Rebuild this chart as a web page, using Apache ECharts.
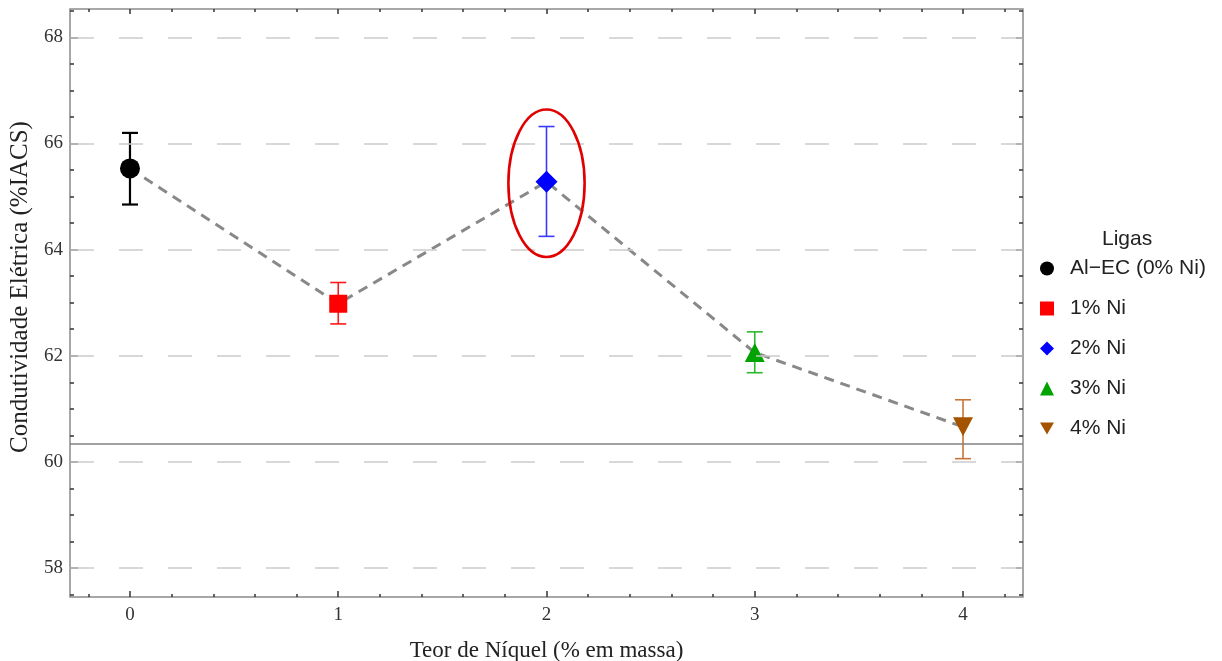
<!DOCTYPE html>
<html>
<head>
<meta charset="utf-8">
<title>Condutividade Elétrica x Teor de Níquel</title>
<script src="https://cdn.jsdelivr.net/npm/echarts@6/dist/echarts.min.js"></script>
<style>
  html, body { margin: 0; padding: 0; background: #fff; }
  #grafico { width: 1222px; height: 661px; }
</style>
</head>
<body>
<div id="grafico"></div>
<script>
// dados
var teorNi = [0, 1, 2, 3, 4];
var ligas = ['Al\u2212EC (0% Ni)', '1% Ni', '2% Ni', '3% Ni', '4% Ni'];
var condMedia = [65.53, 62.98, 65.28, 62.06, 60.66];
var condMin = [64.85, 62.60, 64.25, 61.68, 60.06];
var condMax = [66.20, 63.38, 66.32, 62.45, 61.17];
var linhaRef = 60.35;
var destaque = [2, 65.25];

var ticksX = [0, 1, 2, 3, 4];
var ticksXmenor = [-0.2, 0.2, 0.4, 0.6, 0.8, 1.2, 1.4, 1.6, 1.8, 2.2, 2.4, 2.6, 2.8, 3.2, 3.4, 3.6, 3.8, 4.2];
var ticksY = [58, 60, 62, 64, 66, 68];
var ticksYmenor = [57.5, 58.5, 59, 59.5, 60.5, 61, 61.5, 62.5, 63, 63.5, 64.5, 65, 65.5, 66.5, 67, 67.5, 68.5];

var cores = ['#000000', '#ff0000', '#0000ff', '#00a300', '#a65300'];
var coresErro = ['#000000', '#ff1a1a', '#3a3aff', '#2db82d', '#c8743a'];
var simbolos = ['circle', 'rect', 'diamond', 'triangle', 'triangle'];
var rotacoes = [0, 0, 0, 0, 180];
var tamanhos = [20, 18, [22, 22], [20, 19], [20, 19]];
var iconesLegenda = ['circle', 'rect', 'diamond', 'triangle', 'path://M0,0L10,0L5,8.7Z'];

var serif = 'Liberation Serif';
var sans = 'Liberation Sans';
var xMin = -0.288, xMax = 4.288;
var yMin = 57.453, yMax = 68.535;

function eixoX(pos, valores, comprimento, rotulos) {
  return {
    type: 'value', position: pos, min: xMin, max: xMax,
    axisLine: { show: false, onZero: false },
    axisTick: { show: true, inside: true, length: comprimento, customValues: valores,
      lineStyle: { color: '#333', width: 1.5 } },
    axisLabel: rotulos ? { show: true, customValues: valores, margin: 9,
      fontFamily: serif, fontSize: 19, color: '#333' } : { show: false },
    splitLine: { show: false }
  };
}
function eixoY(pos, valores, comprimento, rotulos) {
  return {
    type: 'value', position: pos, min: yMin, max: yMax,
    axisLine: { show: false, onZero: false },
    axisTick: { show: true, inside: true, length: comprimento, customValues: valores,
      lineStyle: { color: '#333', width: 1.5 } },
    axisLabel: rotulos ? { show: true, customValues: valores, margin: 7,
      fontFamily: serif, fontSize: 19, color: '#333' } : { show: false },
    splitLine: { show: false }
  };
}

var xAxes = [
  eixoX('bottom', ticksX, 6, true),
  eixoX('bottom', ticksXmenor, 3, false),
  eixoX('top', ticksX, 5, false),
  eixoX('top', ticksXmenor, 3, false)
];
xAxes[0].name = 'Teor de Níquel (% em massa)';
xAxes[0].nameLocation = 'middle';
xAxes[0].nameGap = 42;
xAxes[0].nameTextStyle = { fontFamily: serif, fontSize: 23, color: '#222' };

var yAxes = [
  eixoY('left', ticksY, 8, true),
  eixoY('left', ticksYmenor, 4, false),
  eixoY('right', ticksY, 7, false),
  eixoY('right', ticksYmenor, 4, false)
];
yAxes[0].name = 'Condutividade Elétrica (%IACS)';
yAxes[0].nameLocation = 'middle';
yAxes[0].nameGap = 35;
yAxes[0].nameTextStyle = { fontFamily: serif, fontSize: 25, color: '#222', padding: [0, 0, 0, 32] };

var series = [];

// linha tracejada ligando as médias + grade + linha de referência
series.push({
  type: 'line', name: 'media', xAxisIndex: 0, yAxisIndex: 0,
  data: teorNi.map(function (x, i) { return [x, condMedia[i]]; }),
  showSymbol: false, symbol: 'none', silent: true, z: 2,
  lineStyle: { color: '#888', width: 3, type: [10, 7] },
  markLine: {
    silent: true, symbol: 'none', label: { show: false },
    data: ticksY.map(function (v) {
      return { yAxis: v, lineStyle: { color: '#cccccc', width: 1.5, type: [24, 25] } };
    }).concat([{ yAxis: linhaRef, lineStyle: { color: '#808080', width: 1.5, type: 'solid' } }])
  }
});

// barras de erro
series.push({
  type: 'custom', name: 'erro', xAxisIndex: 0, yAxisIndex: 0, silent: true, z: 3,
  data: teorNi.map(function (x, i) { return [x, condMin[i], condMax[i]]; }),
  renderItem: function (params, api) {
    var x = api.value(0);
    var pB = api.coord([x, api.value(1)]);
    var pT = api.coord([x, api.value(2)]);
    var c = coresErro[params.dataIndex];
    var lw = params.dataIndex === 0 ? 2.2 : 1.6;
    var w = 8;
    var st = { stroke: c, lineWidth: lw };
    return { type: 'group', children: [
      { type: 'line', shape: { x1: pT[0], y1: pT[1], x2: pB[0], y2: pB[1] }, style: st },
      { type: 'line', shape: { x1: pT[0] - w, y1: pT[1], x2: pT[0] + w, y2: pT[1] }, style: st },
      { type: 'line', shape: { x1: pB[0] - w, y1: pB[1], x2: pB[0] + w, y2: pB[1] }, style: st }
    ] };
  }
});

// marcadores de cada liga
ligas.forEach(function (nome, i) {
  series.push({
    type: 'scatter', name: nome, xAxisIndex: 0, yAxisIndex: 0, z: 4,
    data: [[teorNi[i], condMedia[i]]],
    symbol: simbolos[i], symbolSize: tamanhos[i], symbolRotate: rotacoes[i],
    itemStyle: { color: cores[i], opacity: 1 }
  });
});

// elipse vermelha de destaque
series.push({
  type: 'custom', name: 'destaque', xAxisIndex: 0, yAxisIndex: 0, silent: true, z: 5,
  data: [destaque],
  renderItem: function (params, api) {
    var c = api.coord([api.value(0), api.value(1)]);
    var rx = api.size([0.183, 0])[0];
    var ry = api.size([0, 1.39])[1];
    return {
      type: 'path',
      shape: { pathData: 'M0,50 A50,50 0 1,0 100,50 A50,50 0 1,0 0,50 Z',
        x: c[0] - rx, y: c[1] - ry, width: rx * 2, height: ry * 2, layout: 'cover' },
      style: { fill: 'none', stroke: '#e00000', lineWidth: 2.6 }
    };
  }
});

var grafico = echarts.init(document.getElementById('grafico'));
grafico.setOption({
  backgroundColor: '#ffffff',
  animation: false,
  title: {
    text: 'Ligas', left: 1097, top: 224,
    textStyle: { fontFamily: sans, fontSize: 21, fontWeight: 'normal', color: '#222' }
  },
  legend: {
    orient: 'vertical', left: 1040, top: 258, padding: 0,
    itemWidth: 14, itemHeight: 14, itemGap: 19,
    data: ligas.map(function (n, i) { return { name: n, icon: iconesLegenda[i] }; }),
    textStyle: { fontFamily: sans, fontSize: 21, color: '#222', padding: [0, 0, 0, 11] },
    selectedMode: false
  },
  grid: {
    left: 70, right: 199, top: 9, bottom: 64,
    outerBoundsMode: 'none', containLabel: false,
    show: true, borderColor: '#8a8a8a', borderWidth: 1.5, backgroundColor: 'transparent'
  },
  xAxis: xAxes,
  yAxis: yAxes,
  series: series
});
</script>
</body>
</html>
